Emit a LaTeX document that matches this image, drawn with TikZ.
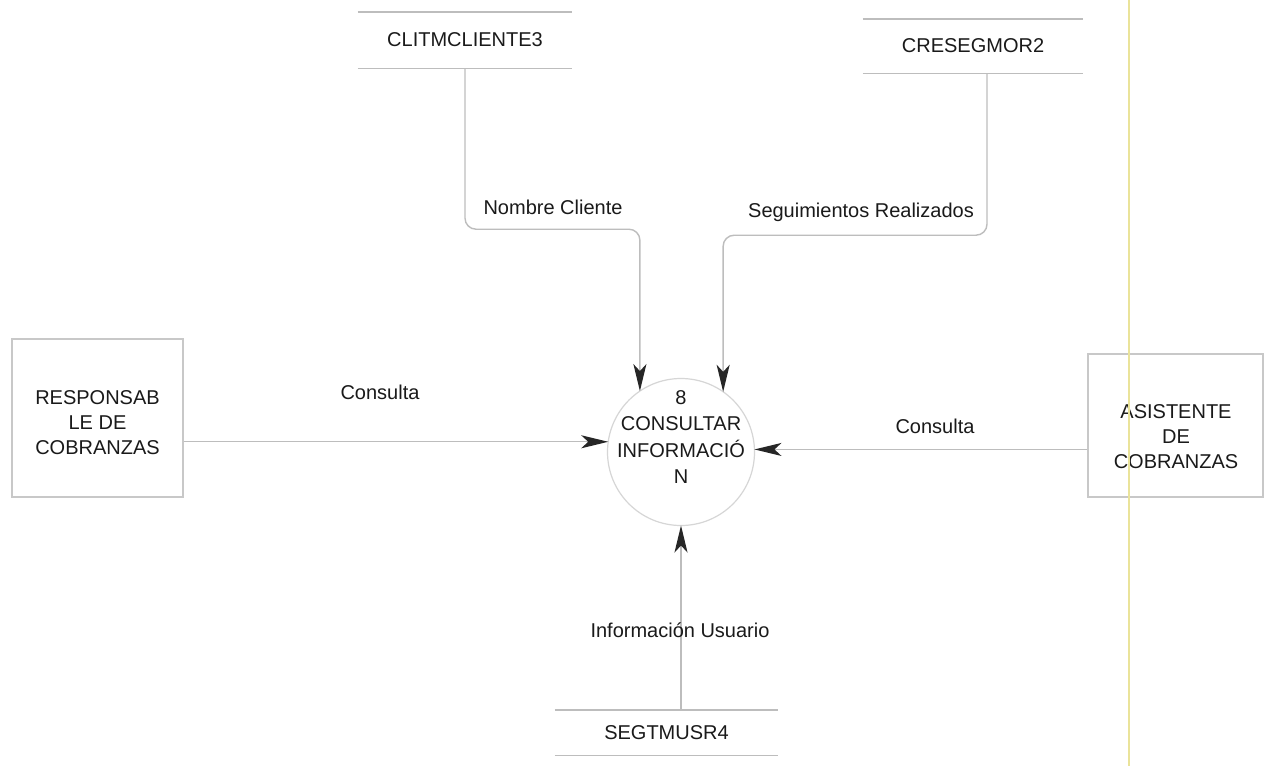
\documentclass[tikz,border=0pt]{standalone}
\usepackage{fontspec}
\setmainfont{Liberation Sans}
\usetikzlibrary{arrows.meta,calc}

\definecolor{inkgray}{HTML}{1A1A1A}
\definecolor{linegray}{HTML}{BDBDBD}
\definecolor{boxgray}{HTML}{C8C8C8}
\definecolor{circgray}{HTML}{D6D6D6}
\definecolor{tipgray}{HTML}{262626}
\definecolor{guideyellow}{HTML}{EAE39A}

\tikzset{
  txt/.style={font=\fontsize{20}{25}\selectfont, text=inkgray, inner sep=0pt, align=center},
  entity/.style={draw=boxgray, line width=1.2pt, inner sep=0pt},
  store/.style={draw=none, inner sep=0pt, font=\fontsize{20}{25}\selectfont, text=inkgray},
  storeline/.style={draw=linegray, line width=1.4pt},
  process/.style={circle, draw=circgray, line width=1.2pt, inner sep=0pt, outer sep=0pt, minimum size=147pt},
  flow/.style={draw=linegray, line width=1.4pt, rounded corners=11pt,
    -{Stealth[length=27pt, width=13pt, inset=7pt, color=tipgray]}},
  flowlabel/.style={txt}
}

\begin{document}
\begin{tikzpicture}[x=1pt, y=-1pt]
  \fill[white] (0,0) rectangle (1274,766);
  \useasboundingbox (0,0) rectangle (1274,766);

  % data stores (open rectangles)
  \node[store, minimum width=214pt, minimum height=56pt] (c1) at (465,40) {CLITMCLIENTE3};
  \node[store, minimum width=220pt, minimum height=54pt] (c2) at (973,46) {CRESEGMOR2};
  \node[store, minimum width=223pt, minimum height=45pt] (s4) at (666.5,732.5) {SEGTMUSR4};
  \foreach \s in {c1,c2,s4}{
    \draw[storeline] (\s.north west) -- (\s.north east);
    \draw[storeline] (\s.south west) -- (\s.south east);
  }

  % external entities
  \node[entity, minimum width=171pt, minimum height=158pt] (r) at (97.5,418) {};
  \node[txt] (rt) at (97.5,423) {RESPONSAB\\LE DE\\COBRANZAS};
  \node[entity, minimum width=175pt, minimum height=143pt] (a) at (1175.5,425.5) {};
  \node[txt] (at) at (1176,437) {ASISTENTE\\DE\\COBRANZAS};

  % process
  \node[process] (p) at (681,452) {};
  \node[txt, font=\fontsize{20}{26.5}\selectfont] (pt) at (681,437) {8\\CONSULTAR\\INFORMACIÓ\\N};

  % data flows
  \draw[flow] (c1.south) -- ++(0,161) -| (p.124.8);
  \draw[flow] ([xshift=14pt]c2.south) -- ++(0,162) -| (p.55.2);
  \draw[flow] (r.east |- p.172.2) -- (p.172.2);
  \draw[flow] (a.west |- p.2) -- (p.2);
  \draw[flow] (s4.north -| p.south) -- (p.south);

  % flow labels
  \node[flowlabel] (l1) at (553,207) {Nombre Cliente};
  \node[flowlabel] (l2) at (861,212) {Seguimientos Realizados};
  \node[flowlabel] (l3) at (380,392) {Consulta};
  \node[flowlabel] (l4) at (935,426) {Consulta};
  \node[flowlabel] (l5) at (680,630) {Información Usuario};

  % vertical guide line
  \draw[guideyellow, line width=1.3pt] (1129,0) -- (1129,766);
\end{tikzpicture}
\end{document}
